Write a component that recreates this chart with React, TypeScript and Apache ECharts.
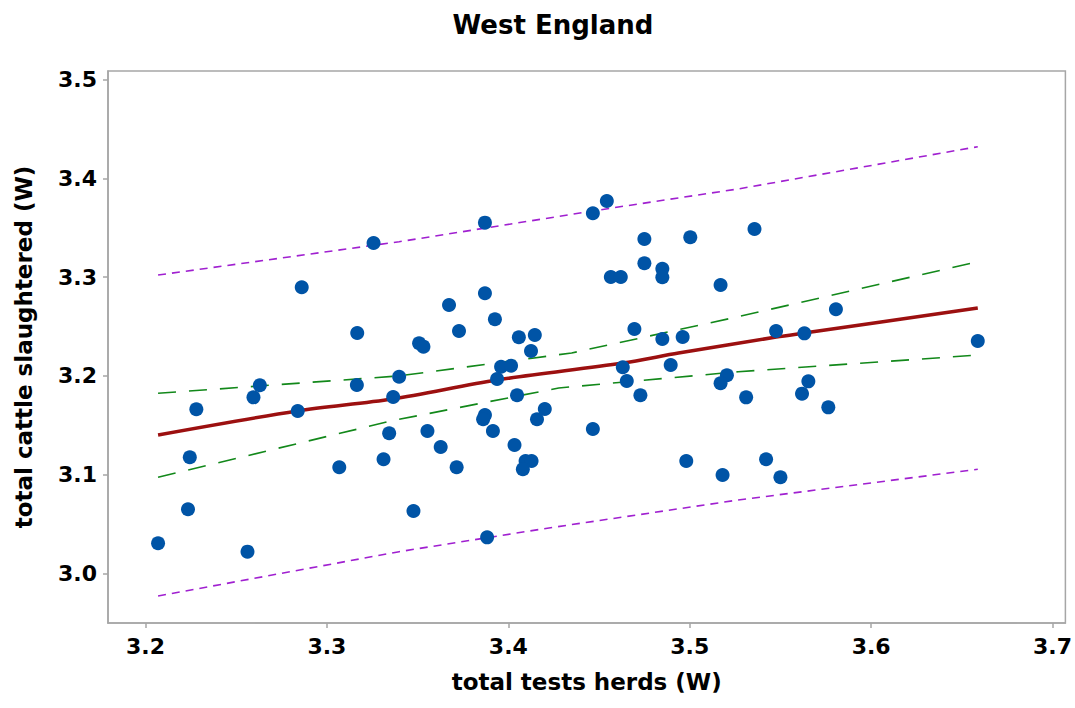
import React, { useEffect, useRef } from "react";
import * as echarts from "echarts";

const titleText = "West England";
const xName = "total tests herds (W)";
const yName = "total cattle slaughtered (W)";

const xTicks = [3.2, 3.3, 3.4, 3.5, 3.6, 3.7];
const yTicks = [3.0, 3.1, 3.2, 3.3, 3.4, 3.5];

const pointsX = [
  3.2069, 3.2234, 3.2244, 3.228, 3.2562, 3.2595, 3.263, 3.2839, 3.2861, 3.3068,
  3.3165, 3.3167, 3.3257, 3.3312, 3.3343, 3.3365, 3.3398, 3.3871, 3.4466, 3.4543,
  3.475, 3.5003, 3.475, 3.4849, 3.4849, 3.4565, 3.462, 3.517, 3.3871, 3.3673,
  3.3926, 3.3728, 3.3508, 3.3532, 3.4058, 3.4146, 3.4125, 3.4695, 3.4849, 3.4961,
  3.396, 3.4015, 3.3938, 3.4631, 3.4653, 3.4728, 3.4895, 3.5205, 3.517, 3.4048,
  3.4201, 3.4158, 3.3871, 3.3861, 3.3915, 3.3554, 3.3627, 3.4034, 3.4466, 3.3715,
  3.4095, 3.4128, 3.408, 3.3477, 3.4981, 3.5181, 3.3883, 3.5357, 3.5806, 3.5476,
  3.5632, 3.6588, 3.5654, 3.5619, 3.5311, 3.5764, 3.5421, 3.55,
];
const pointsY = [
  3.0306, 3.065, 3.1176, 3.1662, 3.0221, 3.1783, 3.1905, 3.1645, 3.2897, 3.1075,
  3.1908, 3.2434, 3.3345, 3.1156, 3.1419, 3.1786, 3.1992, 3.3551, 3.3646, 3.377,
  3.3386, 3.3403, 3.314, 3.3085, 3.2998, 3.3001, 3.3001, 3.292, 3.2836, 3.2718,
  3.2573, 3.2454, 3.233, 3.2296, 3.2391, 3.2414, 3.2252, 3.2475, 3.2373, 3.2394,
  3.2093, 3.2103, 3.1969, 3.2087, 3.1948, 3.1804, 3.211, 3.2006, 3.1925, 3.1804,
  3.1665, 3.1561, 3.1604, 3.1561, 3.1442, 3.1442, 3.128, 3.1301, 3.1463, 3.1075,
  3.1139, 3.1139, 3.1055, 3.0633, 3.1139, 3.0997, 3.0366, 3.3487, 3.2674, 3.2454,
  3.2431, 3.2353, 3.1945, 3.182, 3.1783, 3.1682, 3.1156, 3.0974,
];

const fitX = [3.2069, 3.2837, 3.336, 3.3937, 3.463, 3.4938, 3.5477, 3.5631, 3.6588];
const fitY = [3.1402, 3.1645, 3.1766, 3.1958, 3.213, 3.2231, 3.2393, 3.2434, 3.2687];

const ciUpperX = [3.2069, 3.3393, 3.4349, 3.5267, 3.6588];
const ciUpperY = [3.1824, 3.1999, 3.2232, 3.2599, 3.3156];
const ciLowerX = [3.2069, 3.3361, 3.4278, 3.5267, 3.6588];
const ciLowerY = [3.0974, 3.1547, 3.1878, 3.2042, 3.2211];

const piUpperX = [3.2069, 3.3398, 3.4569, 3.5267, 3.6588];
const piUpperY = [3.3021, 3.3358, 3.3699, 3.3892, 3.432];
const piLowerX = [3.2069, 3.3398, 3.4184, 3.5267, 3.6588];
const piLowerY = [2.9772, 3.0221, 3.045, 3.0744, 3.1055];

const zip = (xs: number[], ys: number[]) => xs.map((x, i) => [x, ys[i]]);

const FONT = "'DejaVu Sans', 'Open Sans', sans-serif";
const AXIS_GRAY = "#a6a6a6";

export default function App() {
  const ref = useRef<HTMLDivElement>(null);
  useEffect(() => {
    if (!ref.current) return;
    const chart = echarts.init(ref.current, null, { renderer: "svg" });
    const piStyle = { color: "#a020d0", width: 1.6, type: [8, 6] as number[] };
    const ciStyle = { color: "#12881a", width: 1.6, type: [18, 13] as number[] };
    chart.setOption({
      animation: false,
      backgroundColor: "#ffffff",
      title: {
        text: titleText,
        left: 548,
        top: 7,
        textAlign: "center",
        textStyle: { fontFamily: FONT, fontWeight: "bold", fontSize: 26, color: "#000" },
      },
      grid: {
        left: 108,
        top: 71,
        right: 7,
        bottom: 85,
        show: true,
        borderColor: AXIS_GRAY,
        borderWidth: 1.5,
        backgroundColor: "#fff",
      },
      xAxis: {
        type: "value",
        min: 3.1793,
        max: 3.7071,
        name: xName,
        nameLocation: "middle",
        nameGap: 47,
        nameTextStyle: { fontFamily: FONT, fontWeight: "bold", fontSize: 23, color: "#000" },
        axisLine: { show: true, lineStyle: { color: AXIS_GRAY, width: 1.5 } },
        axisTick: { show: true, customValues: xTicks, length: 5, lineStyle: { color: AXIS_GRAY, width: 1.5 } },
        axisLabel: {
          customValues: xTicks,
          margin: 12,
          fontFamily: FONT,
          fontWeight: "bold",
          fontSize: 22,
          color: "#000",
          formatter: (v: number) => v.toFixed(1),
        },
        splitLine: { show: false },
      },
      yAxis: {
        type: "value",
        min: 2.9499,
        max: 3.5086,
        name: yName,
        nameLocation: "middle",
        nameGap: 73,
        nameTextStyle: { fontFamily: FONT, fontWeight: "bold", fontSize: 23, color: "#000" },
        axisLine: { show: true, lineStyle: { color: AXIS_GRAY, width: 1.5 } },
        axisTick: { show: true, customValues: yTicks, length: 5, lineStyle: { color: AXIS_GRAY, width: 1.5 } },
        axisLabel: {
          customValues: yTicks,
          margin: 11,
          fontFamily: FONT,
          fontWeight: "bold",
          fontSize: 22,
          color: "#000",
          formatter: (v: number) => v.toFixed(1),
        },
        splitLine: { show: false },
      },
      series: [
        { type: "line", data: zip(piUpperX, piUpperY), showSymbol: false, symbol: "none", lineStyle: piStyle, z: 1 },
        { type: "line", data: zip(piLowerX, piLowerY), showSymbol: false, symbol: "none", lineStyle: piStyle, z: 1 },
        { type: "line", data: zip(ciUpperX, ciUpperY), showSymbol: false, symbol: "none", lineStyle: ciStyle, z: 1 },
        { type: "line", data: zip(ciLowerX, ciLowerY), showSymbol: false, symbol: "none", lineStyle: ciStyle, z: 1 },
        {
          type: "line",
          data: zip(fitX, fitY),
          showSymbol: false,
          symbol: "none",
          smooth: 0.3,
          lineStyle: { color: "#9c1010", width: 3.5 },
          z: 2,
        },
        {
          type: "scatter",
          data: zip(pointsX, pointsY),
          symbol: "circle",
          symbolSize: 14,
          itemStyle: { color: "#0054a6", opacity: 1 },
          z: 3,
        },
      ],
    });
    return () => chart.dispose();
  }, []);
  return (
    <div
      ref={ref}
      style={{ position: "absolute", left: 0, top: 0, width: 1075, height: 708, background: "#fff" }}
    />
  );
}
